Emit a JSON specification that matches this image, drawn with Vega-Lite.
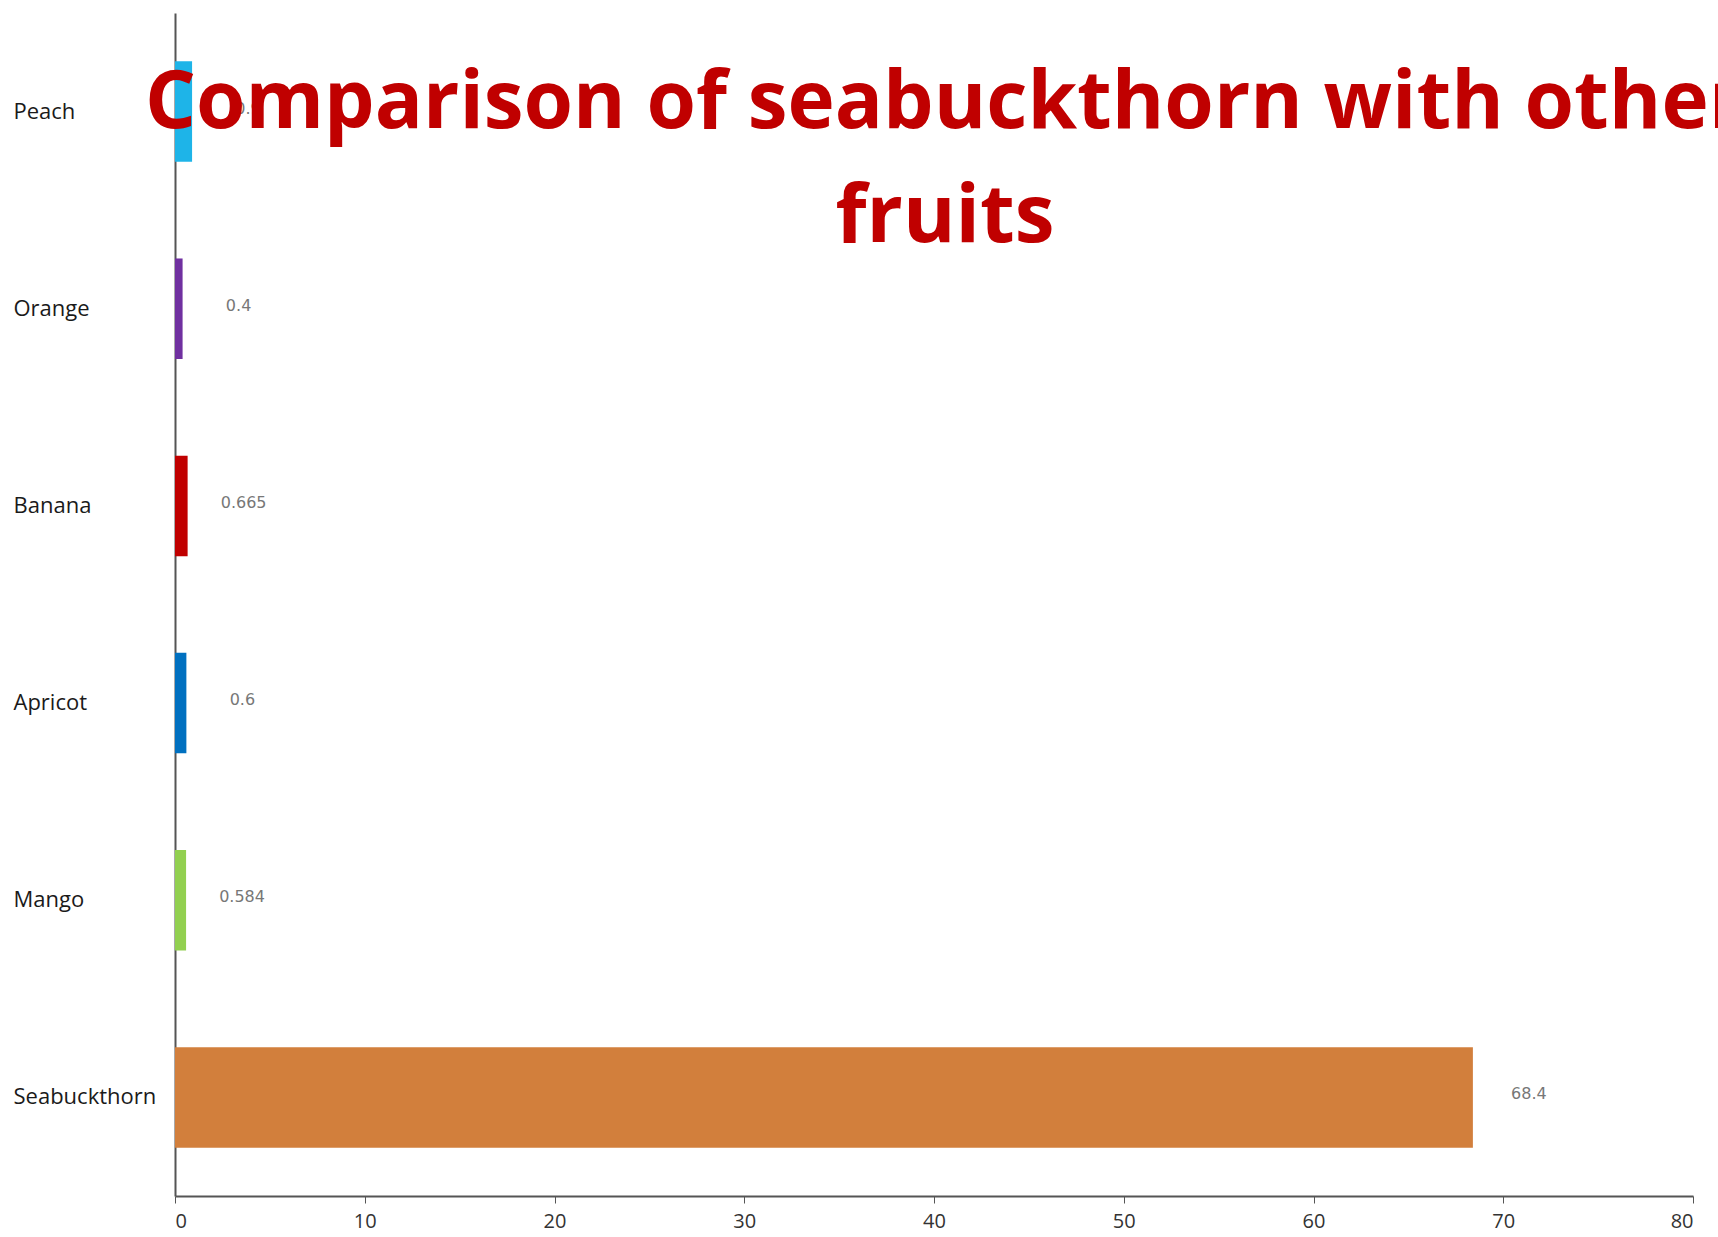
{
  "$schema": "https://vega.github.io/schema/vega-lite/v6.json",
  "autosize": {"type": "none"},
  "padding": {"left": 175, "top": 13, "right": 25, "bottom": 41},
  "width": 1518,
  "height": 1183,
  "background": "white",
  "config": {"view": {"stroke": null}},
  "title": {
    "text": ["Comparison of seabuckthorn with other", "fruits"],
    "font": "Open Sans",
    "fontWeight": "bold",
    "fontSize": 80,
    "color": "#C00000",
    "anchor": "middle",
    "frame": "group",
    "baseline": "top",
    "offset": -246,
    "dx": 11,
    "lineHeight": 114
  },
  "data": {
    "values": [
      {"fruit": "Peach", "value": 0.9},
      {"fruit": "Orange", "value": 0.4},
      {"fruit": "Banana", "value": 0.665},
      {"fruit": "Apricot", "value": 0.6},
      {"fruit": "Mango", "value": 0.584},
      {"fruit": "Seabuckthorn", "value": 68.4}
    ]
  },
  "encoding": {
    "y": {
      "field": "fruit",
      "type": "nominal",
      "sort": ["Peach", "Orange", "Banana", "Apricot", "Mango", "Seabuckthorn"],
      "scale": {"paddingInner": 0.49, "paddingOuter": 0.245},
      "axis": {
        "title": null,
        "ticks": false,
        "labelAlign": "left",
        "labelPadding": 162,
        "labelFont": "Open Sans",
        "labelFontSize": 22,
        "labelColor": "#1a1a1a",
        "domainColor": "#555555",
        "domainWidth": 2
      }
    },
    "x": {
      "field": "value",
      "type": "quantitative",
      "scale": {"domain": [0, 80]},
      "axis": {
        "title": null,
        "grid": false,
        "values": [0, 10, 20, 30, 40, 50, 60, 70, 80],
        "labelOverlap": false,
        "labelFont": "Open Sans",
        "labelFontSize": 20,
        "labelColor": "#333333",
        "domainColor": "#555555",
        "domainWidth": 2,
        "tickColor": "#555555",
        "tickSize": 7,
        "labelPadding": 8
      }
    }
  },
  "layer": [
    {
      "mark": {"type": "bar"},
      "encoding": {
        "color": {
          "field": "fruit",
          "type": "nominal",
          "legend": null,
          "scale": {
            "domain": ["Peach", "Orange", "Banana", "Apricot", "Mango", "Seabuckthorn"],
            "range": ["#1EB4E8", "#7030A0", "#C00000", "#0070C0", "#92D050", "#D27F3C"]
          }
        }
      }
    },
    {
      "mark": {"type": "text", "align": "center", "baseline": "middle", "dx": 56, "dy": -3, "font": "DejaVu Sans", "fontSize": 16, "color": "#777777"},
      "encoding": {
        "text": {"field": "value", "type": "quantitative"}
      }
    }
  ]
}
